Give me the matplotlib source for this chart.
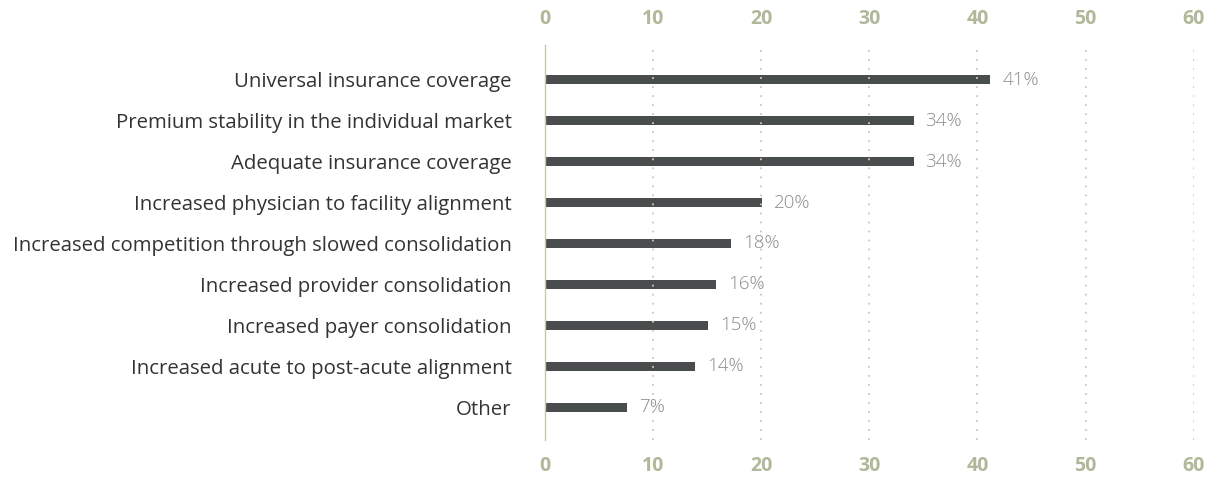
import matplotlib.pyplot as plt

categories = [
    "Universal insurance coverage",
    "Premium stability in the individual market",
    "Adequate insurance coverage",
    "Increased physician to facility alignment",
    "Increased competition through slowed consolidation",
    "Increased provider consolidation",
    "Increased payer consolidation",
    "Increased acute to post-acute alignment",
    "Other",
]
values = [41.2, 34.1, 34.1, 20.1, 17.2, 15.8, 15.1, 13.9, 7.6]
labels = ["41%", "34%", "34%", "20%", "18%", "16%", "15%", "14%", "7%"]
ticks = [0, 10, 20, 30, 40, 50, 60]

plt.rcParams['font.family'] = ['Open Sans', 'DejaVu Sans']

fig = plt.figure(figsize=(12.07, 4.78), dpi=100)
ax = fig.add_axes([0.4515, 0.0795, 0.5375, 0.8265])

y = list(range(len(categories)))
ax.barh(y, values, height=0.22, color="#4a4d4d")
for yi, v, lab in zip(y, values, labels):
    ax.text(v + 1.1, yi, lab, va="center", ha="left", fontsize=13.5,
            color="#8c8c8c", fontweight="light")

ax.set_xlim(0, 60)
ax.set_ylim(8.8, -0.85)
ax.set_xticks(ticks)
ax.set_xticklabels([str(t) for t in ticks])
ax.set_yticks(y)
ax.set_yticklabels(categories, fontsize=14.7, color="#333333")

for t in ticks[1:]:
    ax.axvline(t, color="#c8c8bc", linestyle=(0, (1, 4)), linewidth=1.3)

for s in ["top", "right", "bottom"]:
    ax.spines[s].set_visible(False)
ax.spines["left"].set_color("#c8c4b0")
ax.spines["left"].set_linewidth(1)

ax.tick_params(axis="x", which="both", top=False, bottom=False,
               labeltop=True, labelbottom=True, pad=8,
               labelsize=14, labelcolor="#b0b89a")
for lab in ax.get_xticklabels():
    lab.set_fontweight("bold")
ax.tick_params(axis="y", length=0, pad=24)

fig.savefig("out.png", dpi=100)
